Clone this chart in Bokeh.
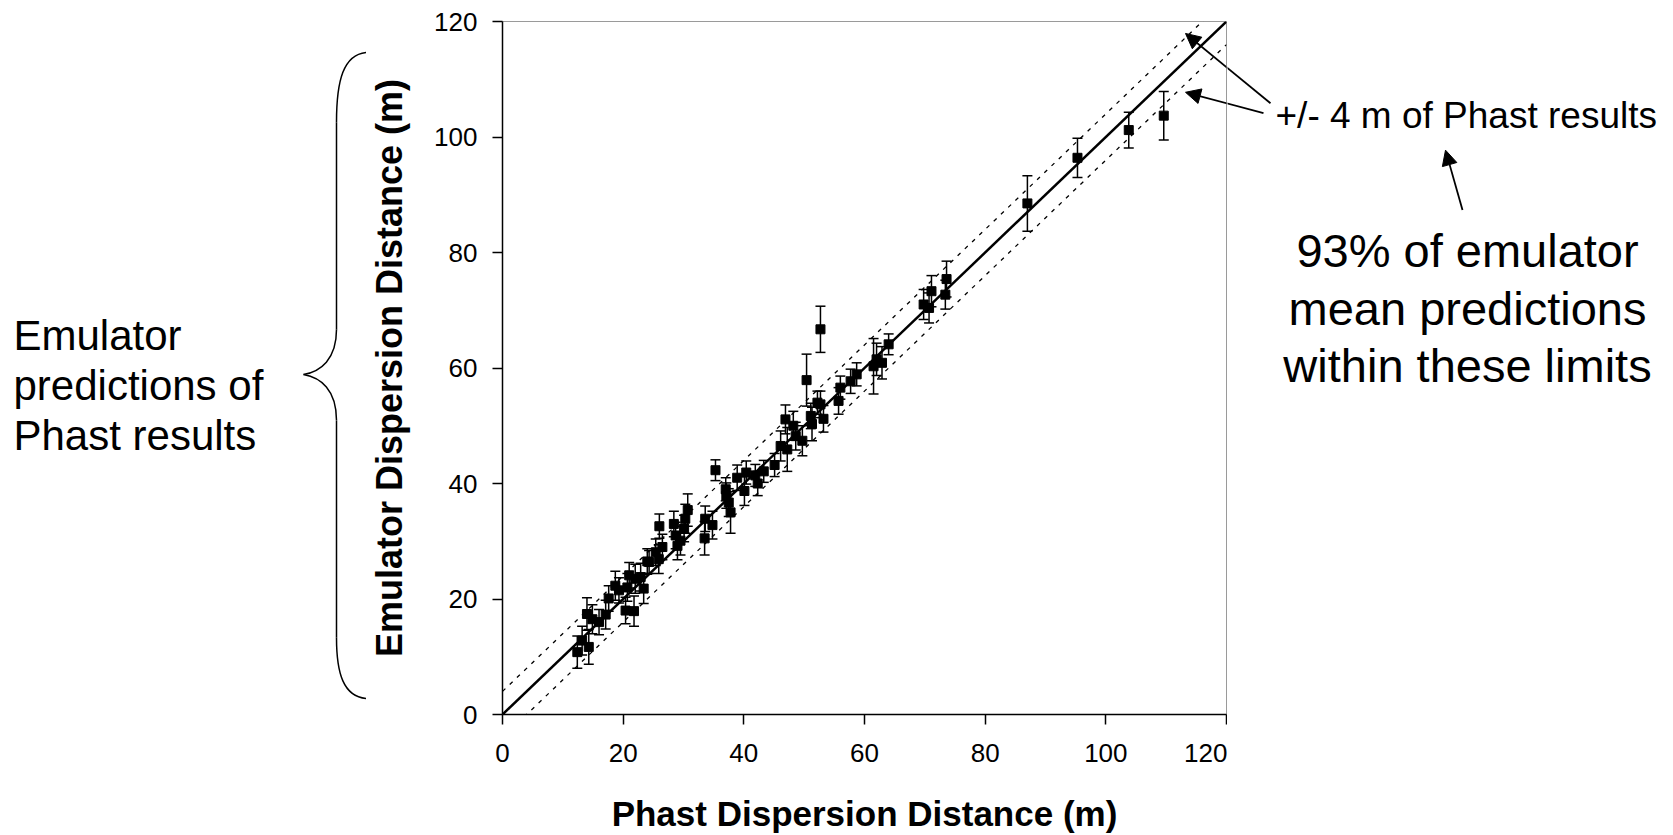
import numpy as np
from bokeh.plotting import figure
from bokeh.layouts import row
from bokeh.models import (Range1d, ColumnDataSource, Whisker, TeeHead, Arrow, NormalHead)
from bokeh.core.properties import value
from bokeh.embed import file_html
from bokeh.resources import INLINE

# ---------------- data ----------------
phast = [12.4, 13.2, 14.3, 14.0, 14.9, 16.0, 17.1, 17.6, 18.7, 19.3,
         20.4, 20.7, 21.0, 21.8, 22.0, 22.9, 23.4, 24.0, 24.3, 25.4,
         25.9, 26.0, 26.5, 28.4, 28.7, 29.0, 29.5, 30.1, 30.3, 30.7,
         33.5, 33.6, 34.8, 35.3, 37.0, 37.1, 37.5, 37.8, 38.9, 40.1,
         40.4, 41.9, 42.3, 43.3, 45.1, 46.1, 46.9, 47.2, 48.2, 48.6,
         49.7, 50.4, 51.1, 51.3, 52.2, 52.7, 52.7, 53.2, 55.7, 56.0,
         57.7, 58.7, 61.5, 62.0, 62.9, 64.0, 69.8, 70.7, 71.1, 73.4,
         73.6, 87.0, 95.3, 103.8, 109.6]
emulator = [10.8, 12.8, 11.7, 17.4, 16.5, 16.0, 17.3, 20.1, 22.3, 21.5,
            18.0, 22.0, 24.1, 17.9, 23.5, 23.8, 21.8, 26.5, 26.4, 28.1,
            26.9, 32.6, 29.0, 33.0, 31.0, 29.2, 30.1, 32.2, 33.9, 35.4,
            30.5, 33.9, 32.8, 42.3, 39.0, 37.9, 36.7, 35.0, 41.0, 38.7,
            41.9, 41.4, 40.0, 42.1, 43.2, 46.5, 51.1, 45.9, 50.0, 48.2,
            47.4, 57.9, 51.7, 50.3, 54.0, 66.7, 53.7, 51.2, 54.3, 56.6,
            57.7, 58.9, 60.3, 61.5, 60.9, 64.1, 71.0, 70.4, 73.3, 72.7,
            75.4, 88.5, 96.4, 101.2, 103.7]
err = [2.8, 2.5, 3.0, 2.8, 2.5, 2.2, 2.5, 2.2, 2.5, 2.2,
       2.3, 2.4, 2.2, 2.6, 2.5, 2.4, 2.6, 2.2, 2.0, 2.3,
       2.5, 2.1, 2.2, 2.2, 2.3, 2.4, 2.5, 2.3, 2.5, 2.8,
       2.9, 2.2, 2.4, 1.8, 2.0, 2.2, 2.4, 3.6, 2.2, 2.5,
       2.0, 1.9, 2.1, 1.9, 2.0, 2.6, 2.5, 3.8, 2.5, 2.4,
       2.6, 4.5, 2.2, 2.9, 2.0, 4.0, 2.3, 2.3, 2.3, 2.0,
       2.1, 2.0, 4.8, 2.8, 2.8, 1.8, 2.6, 2.6, 2.7, 2.5,
       3.1, 4.8, 3.4, 3.1, 4.2]
tolerance = 4
ticks = [0, 20, 40, 60, 80, 100, 120]
axis_min, axis_max = 0, 120

left_lines = ["Emulator", "predictions of", "Phast results"]
right_note = "+/- 4 m of Phast results"
right_lines = ["93% of emulator", "mean predictions", "within these limits"]

# ---------------- page geometry ----------------
W, H = 1673, 835
FL, FT, FW, FH = 502, 21, 724, 695   # plot frame on the page
LEFT_W = 366                          # left annotation panel
RIGHT_X = FL + FW + 1                 # right annotation panel start
FONT = "Liberation Sans"


def dx(px):
    return axis_min + (np.asarray(px, dtype=float) - FL) * (axis_max - axis_min) / FW


def dy(py):
    return axis_min + (FT + FH - np.asarray(py, dtype=float)) * (axis_max - axis_min) / FH


def blank(width, x0):
    # side panel whose frame lines up with the main frame; ranges are page pixels
    f = figure(width=width, height=H, x_range=Range1d(x0, x0 + width),
               y_range=Range1d(FT + FH, FT),
               output_backend="svg", toolbar_location=None,
               min_border_left=0, min_border_right=0,
               min_border_top=FT, min_border_bottom=H - FT - FH)
    f.axis.visible = False
    f.grid.visible = False
    f.outline_line_color = None
    f.background_fill_color = "white"
    f.border_fill_color = "white"
    return f


# ---------------- main plot ----------------
p = figure(width=RIGHT_X - LEFT_W, height=H,
           x_range=Range1d(axis_min, axis_max), y_range=Range1d(axis_min, axis_max),
           output_backend="svg", toolbar_location=None,
           min_border_left=FL - LEFT_W, min_border_right=1,
           min_border_top=FT, min_border_bottom=H - FT - FH)
p.background_fill_color = "white"
p.border_fill_color = "white"
p.outline_line_color = "#9a9a9a"
p.outline_line_width = 1
p.grid.visible = False

for ax in (p.xaxis, p.yaxis):
    ax.ticker = ticks
    ax.axis_line_color = "black"
    ax.axis_line_width = 1.5
    ax.major_tick_line_color = "black"
    ax.major_tick_line_width = 1.5
    ax.major_tick_out = 10
    ax.major_tick_in = 0
    ax.minor_tick_line_color = None
    ax.major_label_text_font = FONT
    ax.major_label_text_font_size = "26px"
    ax.major_label_text_color = "black"
    ax.axis_label_text_font = FONT
    ax.axis_label_text_font_style = "bold"
    ax.axis_label_text_color = "black"

p.xaxis.axis_label = "Phast Dispersion Distance (m)"
p.yaxis.axis_label = "Emulator Dispersion Distance (m)"
p.xaxis.axis_label_text_font_size = "35px"
p.yaxis.axis_label_text_font_size = "36px"
p.xaxis.major_label_standoff = 19
p.xaxis.axis_label_standoff = 29
p.yaxis.major_label_standoff = 15
p.yaxis.axis_label_standoff = 21

line_x = np.array([axis_min, axis_max], dtype=float)
p.line(line_x, line_x, line_color="black", line_width=2.5)
p.line(line_x, line_x + tolerance, line_color="black", line_width=1.3, line_dash="4 6")
p.line(line_x, line_x - tolerance, line_color="black", line_width=1.3, line_dash="4 6")

src = ColumnDataSource(dict(
    x=phast, y=emulator,
    upper=[e + s for e, s in zip(emulator, err)],
    lower=[e - s for e, s in zip(emulator, err)],
))
p.add_layout(Whisker(source=src, base="x", upper="upper", lower="lower",
                     line_color="black", line_width=1.5,
                     upper_head=TeeHead(size=10, line_color="black", line_width=1.5),
                     lower_head=TeeHead(size=10, line_color="black", line_width=1.5)))
p.scatter("x", "y", source=src, marker="square", size=9,
          fill_color="black", line_color="black")

# arrows pointing at the tolerance lines (page pixels: start -> head)
arrows = [((1270, 103), (1185, 33)),
          ((1263, 113), (1185, 92))]
for (sx, sy), (ex, ey) in arrows:
    p.add_layout(Arrow(end=NormalHead(size=15, fill_color="black", line_color="black"),
                       x_start=float(dx(sx)), y_start=float(dy(sy)),
                       x_end=float(dx(ex)), y_end=float(dy(ey)),
                       line_color="black", line_width=1.8))

# ---------------- left panel: brace + text ----------------
lp = blank(LEFT_W, 0)
brace_curves = dict(
    x0=[366, 336, 303, 336], y0=[52, 330, 375, 639],
    cx0=[343, 336, 320, 336], cy0=[54, 360, 378, 675],
    cx1=[336, 320, 336, 343], cy1=[80, 372, 390, 698],
    x1=[336, 303, 336, 366], y1=[122, 375, 421, 700],
)
lp.bezier(source=ColumnDataSource(brace_curves), x0="x0", y0="y0", x1="x1", y1="y1",
          cx0="cx0", cy0="cy0", cx1="cx1", cy1="cy1", line_color="black", line_width=1.5)
lp.segment(x0=[336, 336], y0=[122, 421], x1=[336, 336], y1=[330, 639],
           line_color="black", line_width=1.5)
lp.text(x=[13] * 3, y=[336, 386, 436], text=left_lines, text_font=value(FONT),
        text_font_size="42px", text_color="black", text_align="left",
        text_baseline="alphabetic")

# ---------------- right panel: notes + arrows ----------------
rp = blank(W - RIGHT_X, RIGHT_X)
rp.text(x=[1275], y=[115], text=[right_note], text_font=value(FONT),
        text_font_size="37px", text_color="black", text_align="left",
        text_baseline="alphabetic")
rp.text(x=[1467] * 3, y=[251, 309, 366], text=right_lines, text_font=value(FONT),
        text_font_size="47px", text_color="black", text_align="center",
        text_baseline="alphabetic")
# continuation of the two arrows that start in this panel
rp.segment(x0=[a[0][0] for a in arrows], y0=[a[0][1] for a in arrows],
           x1=[a[1][0] for a in arrows], y1=[a[1][1] for a in arrows],
           line_color="black", line_width=1.8)
rp.add_layout(Arrow(end=NormalHead(size=15, fill_color="black", line_color="black"),
                    x_start=1462, y_start=210, x_end=1445, y_end=150,
                    line_color="black", line_width=1.8))

layout = row(lp, p, rp, spacing=0)
open("out.html", "w").write(file_html(layout, INLINE))
